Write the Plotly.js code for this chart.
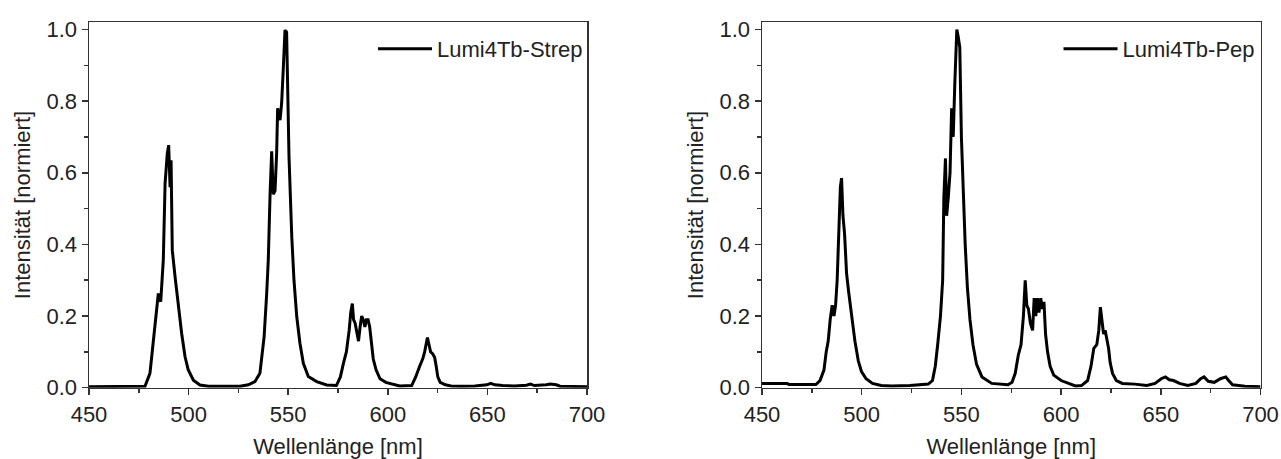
<!DOCTYPE html>
<html>
<head>
<meta charset="utf-8">
<script src="https://cdn.plot.ly/plotly-3.0.1.min.js"></script>
<style>
  html, body { margin: 0; padding: 0; background: #ffffff; }
  #chart { width: 1281px; height: 459px; }
</style>
</head>
<body>
<div id="chart"></div>
<script>
// Lumi4Tb-Strep emission spectrum (normalised)
const strepWavelength = [450, 455, 460, 465, 470, 475, 478.1, 480.6, 482.3, 484, 484.8, 486, 487.3, 488.2, 489.3, 490, 490.7, 491.2, 491.8, 493.2, 494.8, 496.5, 498.2, 499.8, 502.4, 505.7, 510, 518, 525.8, 530, 533.3, 535.8, 537.9, 539.2, 540, 540.9, 541.7, 542.5, 543.4, 544.2, 544.7, 545.9, 546.7, 547.5, 548.4, 549.2, 549.5, 550.4, 551.8, 552.9, 554.3, 555.9, 557.6, 560.1, 564.3, 569.3, 574.2, 576.2, 577.8, 579.2, 580.6, 581.4, 582.2, 582.8, 583.6, 584.5, 585.3, 586.1, 586.9, 587.7, 588.5, 589.3, 590.1, 590.9, 591.7, 592.7, 594.1, 596.1, 599, 602, 606, 612, 614, 616, 617.5, 618.5, 619.3, 619.9, 620.7, 621.5, 622.5, 623.5, 624.3, 625.1, 626.3, 628.9, 631.8, 637, 643.7, 647, 649.7, 651.7, 653.7, 657.7, 663.6, 669.6, 671.6, 673.6, 677, 679.6, 681.6, 684.5, 686.5, 692, 700];
const strepIntensity = [0.003, 0.003, 0.004, 0.003, 0.003, 0.003, 0.004, 0.04, 0.133, 0.235, 0.263, 0.24, 0.356, 0.57, 0.654, 0.677, 0.56, 0.635, 0.384, 0.31, 0.226, 0.152, 0.087, 0.05, 0.021, 0.0075, 0.004, 0.004, 0.004, 0.008, 0.017, 0.04, 0.142, 0.263, 0.356, 0.54, 0.66, 0.54, 0.55, 0.655, 0.78, 0.747, 0.794, 0.886, 0.998, 0.993, 0.92, 0.645, 0.42, 0.30, 0.198, 0.124, 0.068, 0.031, 0.017, 0.0075, 0.006, 0.03, 0.07, 0.10, 0.16, 0.21, 0.235, 0.19, 0.18, 0.15, 0.13, 0.17, 0.20, 0.19, 0.17, 0.19, 0.19, 0.17, 0.12, 0.08, 0.05, 0.025, 0.015, 0.01, 0.005, 0.006, 0.03, 0.06, 0.08, 0.10, 0.13, 0.14, 0.12, 0.10, 0.095, 0.085, 0.06, 0.03, 0.015, 0.008, 0.005, 0.004, 0.005, 0.006, 0.008, 0.012, 0.008, 0.006, 0.005, 0.007, 0.01, 0.006, 0.006, 0.008, 0.01, 0.008, 0.004, 0.003, 0.003];

// Lumi4Tb-Pep emission spectrum (normalised)
const pepWavelength = [450, 455, 460, 462.7, 463.5, 470, 477, 479.1, 481.1, 482.2, 483.2, 484.2, 485.2, 486.1, 486.9, 487.7, 488.5, 489.3, 489.9, 490.6, 491.4, 492.4, 493.4, 495.1, 496.6, 498.3, 499.9, 502.2, 505.4, 509.8, 515, 524.2, 530.3, 533.4, 535.5, 536.9, 538.1, 539.5, 540.6, 541.2, 542, 542.6, 543.4, 544.3, 545.1, 545.9, 546.7, 547.7, 548.4, 549.2, 550, 550.8, 551.9, 553, 554.3, 555.8, 557.6, 560.3, 565.2, 573.4, 575.4, 577, 578.5, 579.9, 581.1, 582, 582.8, 583.6, 584.6, 585.7, 586.5, 587.3, 588.1, 588.9, 589.8, 590.6, 591.4, 592.2, 593.2, 594.5, 596.3, 600, 604.1, 607.2, 610.2, 613.3, 615, 616.4, 617.9, 618.9, 619.7, 620.5, 621.3, 622.1, 622.9, 623.8, 624.6, 625.8, 627.7, 630.7, 636.9, 643, 647.1, 650.2, 652.3, 654.3, 656.4, 659.4, 663.5, 667.6, 670, 671.7, 673.8, 676.8, 679.9, 682.6, 684, 686, 692.2, 700];
const pepIntensity = [0.012, 0.012, 0.012, 0.012, 0.009, 0.009, 0.009, 0.02, 0.05, 0.10, 0.13, 0.19, 0.23, 0.20, 0.23, 0.30, 0.47, 0.56, 0.585, 0.48, 0.43, 0.32, 0.27, 0.195, 0.13, 0.075, 0.045, 0.025, 0.012, 0.006, 0.005, 0.006, 0.008, 0.01, 0.02, 0.06, 0.12, 0.20, 0.30, 0.53, 0.64, 0.48, 0.53, 0.60, 0.78, 0.70, 0.85, 1.00, 0.98, 0.95, 0.70, 0.55, 0.40, 0.28, 0.19, 0.12, 0.065, 0.03, 0.012, 0.008, 0.015, 0.04, 0.09, 0.12, 0.20, 0.30, 0.23, 0.22, 0.18, 0.16, 0.25, 0.20, 0.25, 0.21, 0.25, 0.22, 0.24, 0.15, 0.10, 0.06, 0.035, 0.02, 0.012, 0.005, 0.006, 0.02, 0.06, 0.11, 0.12, 0.16, 0.225, 0.19, 0.15, 0.16, 0.14, 0.11, 0.07, 0.04, 0.02, 0.012, 0.01, 0.006, 0.012, 0.025, 0.03, 0.022, 0.02, 0.012, 0.006, 0.012, 0.025, 0.03, 0.018, 0.015, 0.025, 0.03, 0.02, 0.008, 0.004, 0.003];

const xTickVals = [450, 500, 550, 600, 650, 700];
const xTickText = ['450', '500', '550', '600', '650', '700'];
const yTickVals = [0, 0.2, 0.4, 0.6, 0.8, 1.0];
const yTickText = ['0.0', '0.2', '0.4', '0.6', '0.8', '1.0'];
const seriesNames = ['Lumi4Tb-Strep', 'Lumi4Tb-Pep'];
const xTitle = 'Wellenlänge [nm]';
const yTitle = 'Intensität [normiert]';

const FONT = 'Liberation Sans, Arial, Helvetica, sans-serif';
const W = 1281, H = 459;

const traces = [
  { x: strepWavelength, y: strepIntensity, name: seriesNames[0], type: 'scatter', mode: 'lines',
    line: { color: '#000000', width: 3 }, xaxis: 'x', yaxis: 'y', legend: 'legend' },
  { x: pepWavelength, y: pepIntensity, name: seriesNames[1], type: 'scatter', mode: 'lines',
    line: { color: '#000000', width: 3 }, xaxis: 'x2', yaxis: 'y2', legend: 'legend2' }
];

function xAxis(domain, anchor) {
  return {
    domain: domain, anchor: anchor, range: [450, 700], autorange: false,
    tickmode: 'array', tickvals: xTickVals, ticktext: xTickText,
    ticks: 'outside', ticklen: 6, tickwidth: 1.5, tickcolor: '#333',
    minor: { dtick: 25, tick0: 450, ticks: 'outside', ticklen: 4, tickwidth: 1.5, tickcolor: '#333', showgrid: false },
    showline: true, linecolor: '#333', linewidth: 1.5, mirror: true,
    showgrid: false, zeroline: false,
    tickfont: { family: FONT, size: 22, color: '#222' },
    title: { text: xTitle, font: { family: FONT, size: 22, color: '#222' }, standoff: 14 }
  };
}
function yAxis(domain, anchor) {
  return {
    domain: domain, anchor: anchor, range: [0, 1.02], autorange: false,
    tickmode: 'array', tickvals: yTickVals, ticktext: yTickText,
    ticks: 'outside', ticklen: 6, tickwidth: 1.5, tickcolor: '#333',
    minor: { dtick: 0.1, tick0: 0, ticks: 'outside', ticklen: 4, tickwidth: 1.5, tickcolor: '#333', showgrid: false },
    showline: true, linecolor: '#333', linewidth: 1.5, mirror: true,
    showgrid: false, zeroline: false,
    tickfont: { family: FONT, size: 22, color: '#222' },
    title: { text: yTitle, font: { family: FONT, size: 22, color: '#222' }, standoff: 10 }
  };
}

const yDom = [1 - 387.7 / H, 1 - 22.3 / H];
const layout = {
  width: W, height: H,
  margin: { l: 0, r: 0, t: 0, b: 0 },
  paper_bgcolor: '#ffffff', plot_bgcolor: '#ffffff',
  showlegend: true,
  font: { family: FONT, color: '#222' },
  xaxis: xAxis([89 / W, 587 / W], 'y'),
  yaxis: yAxis(yDom, 'x'),
  xaxis2: xAxis([762 / W, 1260.5 / W], 'y2'),
  yaxis2: yAxis(yDom, 'x2'),
  legend: { x: 588 / W, y: 1 - 28 / H, xanchor: 'right', yanchor: 'top',
    bgcolor: 'rgba(0,0,0,0)', borderwidth: 0, itemwidth: 54,
    font: { family: FONT, size: 22, color: '#222' } },
  legend2: { x: 1260.5 / W, y: 1 - 28 / H, xanchor: 'right', yanchor: 'top',
    bgcolor: 'rgba(0,0,0,0)', borderwidth: 0, itemwidth: 54,
    font: { family: FONT, size: 22, color: '#222' } }
};

Plotly.newPlot('chart', traces, layout, { displayModeBar: false, staticPlot: true });
</script>
</body>
</html>
